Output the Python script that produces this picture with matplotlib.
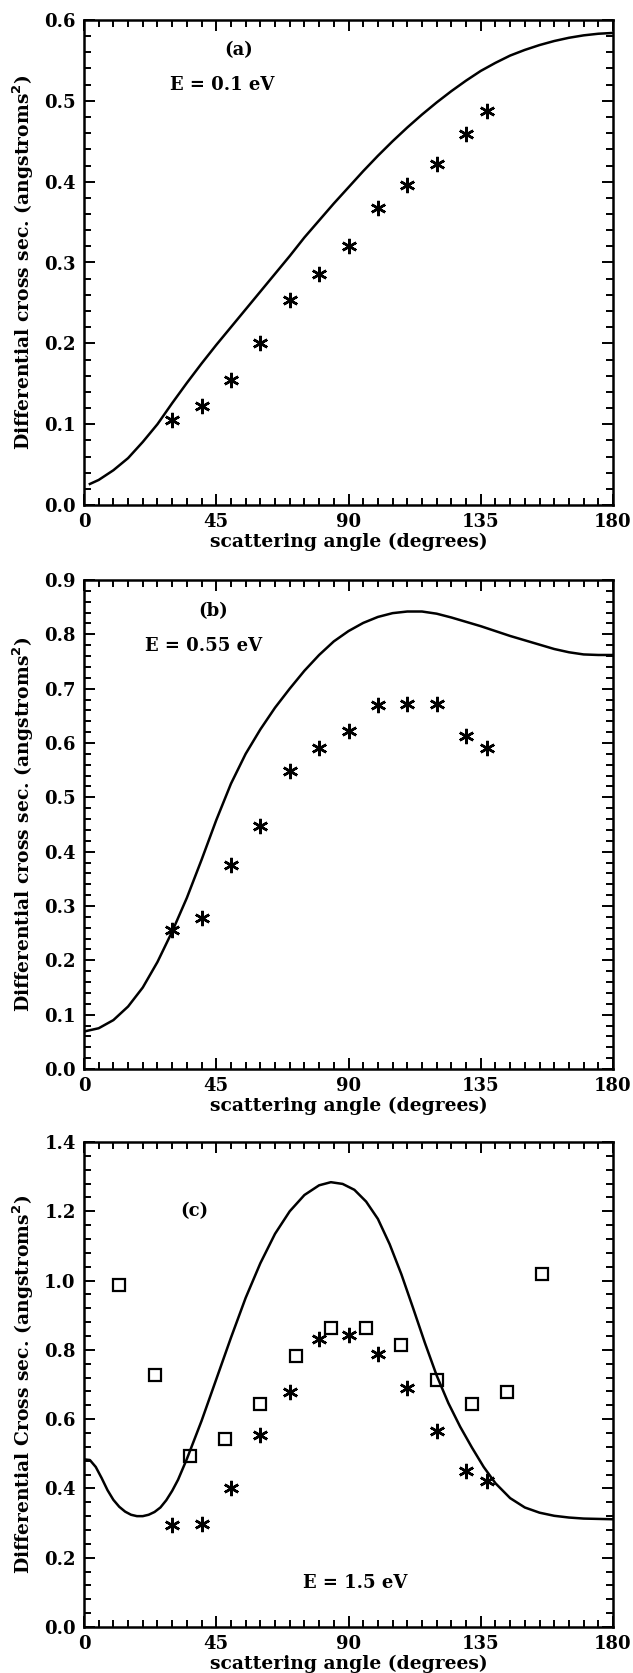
import matplotlib
matplotlib.use('Agg')
import matplotlib.pyplot as plt
from matplotlib.ticker import MultipleLocator

plt.rcParams['font.family'] = ['DejaVu Serif']
plt.rcParams['font.weight'] = 'bold'
plt.rcParams['axes.labelweight'] = 'bold'
plt.rcParams['font.size'] = 13
plt.rcParams['axes.labelsize'] = 13.5

# panel (a)  E = 0.1 eV
a_theory_ang = [2, 5, 10, 15, 20, 25, 30, 35, 40, 45, 50, 55, 60, 65, 70, 75, 80, 85, 90,
                95, 100, 105, 110, 115, 120, 125, 130, 135, 140, 145, 150, 155, 160, 165,
                170, 175, 180]
a_theory = [0.026, 0.031, 0.043, 0.058, 0.078, 0.100, 0.126, 0.151, 0.175, 0.198, 0.220,
            0.242, 0.264, 0.286, 0.308, 0.331, 0.352, 0.373, 0.393, 0.413, 0.432, 0.450,
            0.467, 0.483, 0.498, 0.512, 0.525, 0.537, 0.547, 0.556, 0.563, 0.569, 0.574,
            0.578, 0.581, 0.583, 0.584]
a_exp_ang = [30, 40, 50, 60, 70, 80, 90, 100, 110, 120, 130, 137]
a_exp = [0.105, 0.122, 0.155, 0.201, 0.253, 0.286, 0.321, 0.368, 0.396, 0.422, 0.459, 0.488]

# panel (b)  E = 0.55 eV
b_theory_ang = [0, 5, 10, 15, 20, 25, 30, 35, 40, 45, 50, 55, 60, 65, 70, 75, 80, 85, 90,
                95, 100, 105, 110, 115, 120, 125, 130, 135, 140, 145, 150, 155, 160, 165,
                170, 175, 180]
b_theory = [0.069, 0.075, 0.090, 0.115, 0.150, 0.197, 0.253, 0.315, 0.385, 0.458, 0.525,
            0.580, 0.625, 0.665, 0.700, 0.733, 0.762, 0.787, 0.806, 0.821, 0.832, 0.839,
            0.842, 0.842, 0.838, 0.831, 0.823, 0.815, 0.806, 0.797, 0.789, 0.781, 0.773,
            0.767, 0.763, 0.762, 0.762]
b_exp_ang = [30, 40, 50, 60, 70, 80, 90, 100, 110, 120, 130, 137]
b_exp = [0.255, 0.278, 0.375, 0.447, 0.549, 0.591, 0.623, 0.670, 0.672, 0.672, 0.613, 0.591]

# panel (c)  E = 1.5 eV
c_theory_ang = [0, 2, 4, 6, 8, 10, 12, 14, 16, 18, 20, 22, 24, 26, 28, 30, 32, 35, 40, 45,
                50, 55, 60, 65, 70, 75, 80, 84, 88, 92, 96, 100, 104, 108, 112, 116, 120,
                124, 128, 132, 136, 140, 145, 150, 155, 160, 165, 170, 180]
c_theory = [0.484, 0.482, 0.462, 0.430, 0.395, 0.367, 0.347, 0.333, 0.324, 0.320, 0.320,
            0.324, 0.332, 0.345, 0.366, 0.393, 0.425, 0.485, 0.595, 0.715, 0.835, 0.950,
            1.050, 1.135, 1.200, 1.247, 1.275, 1.284, 1.279, 1.262, 1.228, 1.178, 1.105,
            1.018, 0.920, 0.820, 0.726, 0.646, 0.578, 0.518, 0.462, 0.415, 0.372, 0.345,
            0.330, 0.321, 0.316, 0.313, 0.311]
c_exp_ang = [30, 40, 50, 60, 70, 80, 90, 100, 110, 120, 130, 137]
c_exp = [0.295, 0.297, 0.402, 0.555, 0.679, 0.832, 0.842, 0.789, 0.689, 0.565, 0.449, 0.421]
c_sq_ang = [12, 24, 36, 48, 60, 72, 84, 96, 108, 120, 132, 144, 156]
c_sq = [0.986, 0.728, 0.493, 0.542, 0.644, 0.781, 0.863, 0.863, 0.814, 0.713, 0.644, 0.678, 1.019]

fig = plt.figure(figsize=(6.33, 16.73), dpi=100)
W, H = 633, 1673


def make_axes(top, bottom):
    ax = fig.add_axes([84 / W, 1 - bottom / H, (613 - 84) / W, (bottom - top) / H])
    for s in ax.spines.values():
        s.set_linewidth(1.8)
    ax.tick_params(which='both', direction='in', top=True, right=True, width=1.4)
    ax.tick_params(which='major', length=8, pad=6)
    ax.tick_params(which='minor', length=5)
    ax.set_xlim(0, 180)
    ax.xaxis.set_major_locator(MultipleLocator(45))
    ax.xaxis.set_minor_locator(MultipleLocator(5))
    ax.set_xlabel('scattering angle (degrees)', va='center')
    ax.xaxis.set_label_coords(0.5, -37 / (bottom - top))
    return ax


star = (6, 2, 0)

# (a)
ax = make_axes(20, 505)
ax.plot(a_theory_ang, a_theory, color='k', lw=1.8)
ax.plot(a_exp_ang, a_exp, ls='none', marker=star, ms=11, mew=1.8, color='k')
ax.set_ylim(0, 0.6)
ax.yaxis.set_major_locator(MultipleLocator(0.1))
ax.yaxis.set_minor_locator(MultipleLocator(0.02))
ax.yaxis.set_major_formatter(lambda v, p: '%.1f' % v)
ax.set_ylabel('Differential cross sec. (angstroms$^\\mathbf{2}$)', va='center')
ax.yaxis.set_label_coords(-0.115, 0.5)
ax.text(52.7, 0.563, '(a)', ha='center', va='center')
ax.text(29.4, 0.519, 'E = 0.1 eV', ha='left', va='center')

# (b)
ax = make_axes(580, 1069)
ax.plot(b_theory_ang, b_theory, color='k', lw=1.8)
ax.plot(b_exp_ang, b_exp, ls='none', marker=star, ms=11, mew=1.8, color='k')
ax.set_ylim(0, 0.9)
ax.yaxis.set_major_locator(MultipleLocator(0.1))
ax.yaxis.set_minor_locator(MultipleLocator(0.02))
ax.yaxis.set_major_formatter(lambda v, p: '%.1f' % v)
ax.set_ylabel('Differential cross sec. (angstroms$^\\mathbf{2}$)', va='center')
ax.yaxis.set_label_coords(-0.115, 0.5)
ax.text(44, 0.842, '(b)', ha='center', va='center')
ax.text(20.9, 0.778, 'E = 0.55 eV', ha='left', va='center')

# (c)
ax = make_axes(1142, 1627)
ax.plot(c_theory_ang, c_theory, color='k', lw=1.8)
ax.plot(c_exp_ang, c_exp, ls='none', marker=star, ms=11, mew=1.8, color='k')
ax.plot(c_sq_ang, c_sq, ls='none', marker='s', ms=9, mfc='none', mew=1.6, color='k')
ax.set_ylim(0, 1.4)
ax.yaxis.set_major_locator(MultipleLocator(0.2))
ax.yaxis.set_minor_locator(MultipleLocator(0.04))
ax.yaxis.set_major_formatter(lambda v, p: '%.1f' % v)
ax.set_ylabel('Differential Cross sec. (angstroms$^\\mathbf{2}$)', va='center')
ax.yaxis.set_label_coords(-0.115, 0.5)
ax.text(37.7, 1.202, '(c)', ha='center', va='center')
ax.text(92.3, 0.126, 'E = 1.5 eV', ha='center', va='center')

fig.savefig('out.png', dpi=100)
